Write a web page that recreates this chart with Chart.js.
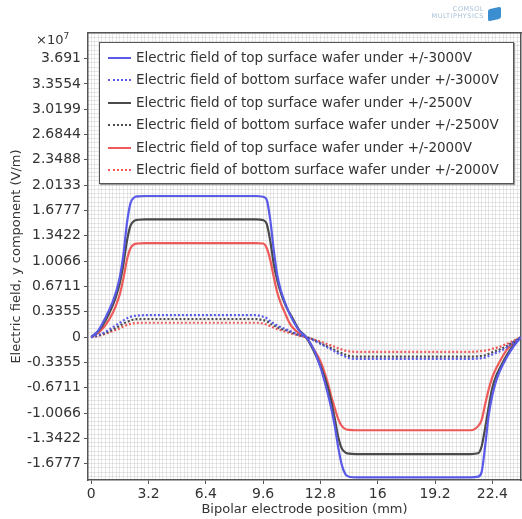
<!DOCTYPE html>
<html>
<head>
<meta charset="utf-8">
<script src="https://cdn.jsdelivr.net/npm/chart.js@4.4.1/dist/chart.umd.min.js"></script>
<style>
  html, body { margin: 0; padding: 0; background: #fff; }
  #wrap { position: relative; width: 522px; height: 519px; font-family: "DejaVu Sans", sans-serif; color: #333; }
  #chart { position: absolute; left: 0; top: 0; }
  #exp { position: absolute; left: 36px; top: 31px; font-size: 13px; }
  #exp sup { font-size: 9px; }
  #legend { position: absolute; left: 99px; top: 42px; width: 413px; padding: 3px 0 3px 0;
            background: #fff; border: 1px solid #555; box-shadow: 1px 1px 1px #999; font-size: 13.5px; }
  .row { height: 22.4px; line-height: 22.4px; white-space: nowrap; }
  .swatch { display: inline-block; width: 23px; margin: 0 5px 0 8px; vertical-align: middle; }
  #logo { position: absolute; left: 412px; top: 6px; font-size: 6.5px; line-height: 7px; color: #a8c0d6; text-align: right; width: 72px; letter-spacing: 0.5px; }
  #logoIcon { position: absolute; left: 488px; top: 8px; width: 13px; height: 12px; background: #3b8fd0; border-radius: 2px; transform: skewY(-12deg); }
</style>
</head>
<body>
<div id="wrap">
  <canvas id="chart" width="522" height="519"></canvas>
  <div id="exp">×10<sup>7</sup></div>
  <div id="legend"></div>
  <div id="logo">COMSOL<br>MULTIPHYSICS</div>
  <div id="logoIcon"></div>
</div>
<script>
// values in units of 1e7 V/m, positions in mm
const xPositions = [0, 0.4, 0.8, 1.2, 1.4, 1.6, 1.8, 2.0, 2.2, 2.4, 2.6, 3.0,
  9.2, 9.6, 9.8, 10.0, 10.2, 10.4, 10.6, 10.8, 11.0, 11.2, 11.6, 12.0,
  12.4, 12.8, 13.2, 13.4, 13.6, 13.8, 14.0, 14.2, 14.4, 14.8,
  21.2, 21.6, 21.8, 22.0, 22.2, 22.4, 22.6, 22.8, 23.2, 23.6, 24.0];

const top3000 = [0, 0.09, 0.26, 0.47, 0.61, 0.80, 1.10, 1.52, 1.78, 1.85, 1.865, 1.87,
  1.87, 1.86, 1.82, 1.55, 1.14, 0.81, 0.61, 0.47, 0.35, 0.25, 0.09, 0,
  -0.15, -0.40, -0.74, -0.94, -1.18, -1.47, -1.70, -1.82, -1.85, -1.86,
  -1.86, -1.85, -1.79, -1.44, -1.03, -0.77, -0.59, -0.46, -0.27, -0.12, 0];
const bottom3000 = [0, 0.03, 0.07, 0.13, 0.16, 0.19, 0.22, 0.25, 0.27, 0.28, 0.285, 0.29,
  0.29, 0.27, 0.25, 0.21, 0.18, 0.15, 0.13, 0.11, 0.09, 0.07, 0.03, 0,
  -0.04, -0.09, -0.14, -0.165, -0.19, -0.22, -0.24, -0.26, -0.28, -0.29,
  -0.29, -0.285, -0.28, -0.27, -0.25, -0.23, -0.21, -0.19, -0.14, -0.07, 0];
const top2500 = [0, 0.08, 0.22, 0.42, 0.55, 0.72, 0.97, 1.28, 1.48, 1.54, 1.555, 1.56,
  1.56, 1.55, 1.50, 1.27, 0.96, 0.74, 0.58, 0.45, 0.35, 0.27, 0.10, 0,
  -0.17, -0.38, -0.66, -0.85, -1.08, -1.33, -1.48, -1.53, -1.545, -1.55,
  -1.55, -1.54, -1.45, -1.20, -0.92, -0.67, -0.52, -0.42, -0.24, -0.10, 0];
const bottom2500 = [0, 0.02, 0.055, 0.10, 0.125, 0.15, 0.18, 0.20, 0.22, 0.235, 0.238, 0.24,
  0.24, 0.225, 0.21, 0.18, 0.155, 0.13, 0.11, 0.095, 0.078, 0.06, 0.025, 0,
  -0.035, -0.08, -0.125, -0.148, -0.17, -0.195, -0.215, -0.235, -0.25, -0.26,
  -0.26, -0.255, -0.25, -0.24, -0.22, -0.20, -0.183, -0.165, -0.12, -0.06, 0];
const top2000 = [0, 0.06, 0.16, 0.32, 0.43, 0.57, 0.78, 1.03, 1.18, 1.23, 1.24, 1.245,
  1.245, 1.24, 1.18, 1.02, 0.79, 0.58, 0.44, 0.33, 0.22, 0.14, 0.05, -0.01,
  -0.15, -0.32, -0.60, -0.78, -0.94, -1.09, -1.18, -1.22, -1.23, -1.235,
  -1.235, -1.18, -1.10, -0.89, -0.69, -0.53, -0.42, -0.33, -0.17, -0.07, 0];
const bottom2000 = [0, 0.015, 0.045, 0.08, 0.098, 0.115, 0.14, 0.16, 0.175, 0.185, 0.188, 0.19,
  0.19, 0.18, 0.165, 0.145, 0.125, 0.105, 0.09, 0.075, 0.06, 0.045, 0.02, 0,
  -0.03, -0.06, -0.095, -0.113, -0.13, -0.15, -0.165, -0.18, -0.19, -0.195,
  -0.195, -0.19, -0.185, -0.18, -0.17, -0.155, -0.143, -0.13, -0.09, -0.045, 0];

const seriesLabels = [
  "Electric field of top surface wafer under +/-3000V",
  "Electric field of bottom surface wafer under +/-3000V",
  "Electric field of top surface wafer under +/-2500V",
  "Electric field of bottom surface wafer under +/-2500V",
  "Electric field of top surface wafer under +/-2000V",
  "Electric field of bottom surface wafer under +/-2000V"
];
const seriesColors = ["#5a5ae8", "#5a5ae8", "#4a4a4a", "#4a4a4a", "#ee5a5a", "#ee5a5a"];
const seriesDotted = [false, true, false, true, false, true];
const seriesValues = [top3000, bottom3000, top2500, bottom2500, top2000, bottom2000];

const xTickValues = [0, 3.2, 6.4, 9.6, 12.8, 16, 19.2, 22.4];
const xTickLabels = ["0", "3.2", "6.4", "9.6", "12.8", "16", "19.2", "22.4"];
const yTickLabels = ["3.691", "3.3554", "3.0199", "2.6844", "2.3488", "2.0133", "1.6777", "1.3422", "1.0066", "0.6711", "0.3355",
  "0", "-0.3355", "-0.6711", "-1.0066", "-1.3422", "-1.6777"];

const X_MIN = -0.18, X_MAX = 24.0, Y_MIN = -1.894, Y_MAX = 4.03;
const FONT = "'DejaVu Sans', sans-serif";

// legend (html)
const legendEl = document.getElementById("legend");
seriesLabels.forEach((label, i) => {
  const row = document.createElement("div");
  row.className = "row";
  const sw = document.createElement("span");
  sw.className = "swatch";
  sw.style.borderTop = `2px ${seriesDotted[i] ? "dotted" : "solid"} ${seriesColors[i]}`;
  row.appendChild(sw);
  row.appendChild(document.createTextNode(label));
  legendEl.appendChild(row);
});

const datasets = seriesValues.map((vals, i) => ({
  label: seriesLabels[i],
  data: xPositions.map((x, k) => ({ x: x, y: vals[k] })),
  borderColor: seriesColors[i],
  borderWidth: 2.2,
  borderDash: seriesDotted[i] ? [2, 2] : [],
  pointRadius: 0,
  fill: false,
  cubicInterpolationMode: "monotone",
  xAxisID: "x",
  yAxisID: "y"
}));

const minorTicks = (min, max, step) => {
  const out = [];
  for (let v = Math.ceil(min / step) * step; v <= max + 1e-9; v += step) out.push({ value: v });
  return out;
};

new Chart(document.getElementById("chart").getContext("2d"), {
  type: "line",
  data: { datasets },
  options: {
    responsive: false,
    animation: false,
    layout: { padding: { top: 33, right: 1, left: 0, bottom: 0 } },
    plugins: { legend: { display: false }, tooltip: { enabled: false } },
    scales: {
      x: {
        type: "linear", position: "bottom", min: X_MIN, max: X_MAX,
        afterBuildTicks: s => { s.ticks = xTickValues.map(v => ({ value: v })); },
        afterFit: s => { s.height = 39; },
        ticks: {
          autoSkip: false, maxRotation: 0, padding: 2, color: "#333",
          font: { family: FONT, size: 14 },
          callback: (v) => xTickLabels[xTickValues.indexOf(v)]
        },
        grid: { drawOnChartArea: false, tickLength: 4, color: "#555" },
        border: { color: "#555", width: 1.5 },
        title: { display: true, text: "Bipolar electrode position (mm)", color: "#333",
                 font: { family: FONT, size: 13 }, padding: { top: 0, bottom: 2 } }
      },
      y: {
        type: "linear", position: "left", min: Y_MIN, max: Y_MAX,
        afterBuildTicks: s => { s.ticks = yTickLabels.map(l => ({ value: parseFloat(l) })); },
        afterFit: s => { s.width = 88; },
        ticks: {
          autoSkip: false, padding: 3, color: "#333",
          font: { family: FONT, size: 14 },
          callback: (v) => yTickLabels.find(l => parseFloat(l) === v)
        },
        grid: { drawOnChartArea: false, tickLength: 4, color: "#555" },
        border: { color: "#555", width: 1.5 },
        title: { display: true, text: "Electric field, y component (V/m)", color: "#333",
                 font: { family: FONT, size: 13 }, padding: { top: 9, bottom: 0 } }
      },
      xg: {
        type: "linear", position: "top", min: X_MIN, max: X_MAX,
        afterBuildTicks: s => { s.ticks = minorTicks(X_MIN, X_MAX, 0.2); },
        afterFit: s => { s.height = 0; },
        ticks: { display: false },
        grid: { drawTicks: false, color: "rgba(0,0,0,0.09)", lineWidth: 1 },
        border: { color: "#555", width: 1.5 }
      },
      yg: {
        type: "linear", position: "right", min: Y_MIN, max: Y_MAX,
        afterBuildTicks: s => { s.ticks = minorTicks(Y_MIN, Y_MAX, 0.335545 / 6); },
        afterFit: s => { s.width = 0; },
        ticks: { display: false },
        grid: { drawTicks: false, color: "rgba(0,0,0,0.09)", lineWidth: 1 },
        border: { color: "#555", width: 1.5 }
      }
    }
  }
});
</script>
</body>
</html>
